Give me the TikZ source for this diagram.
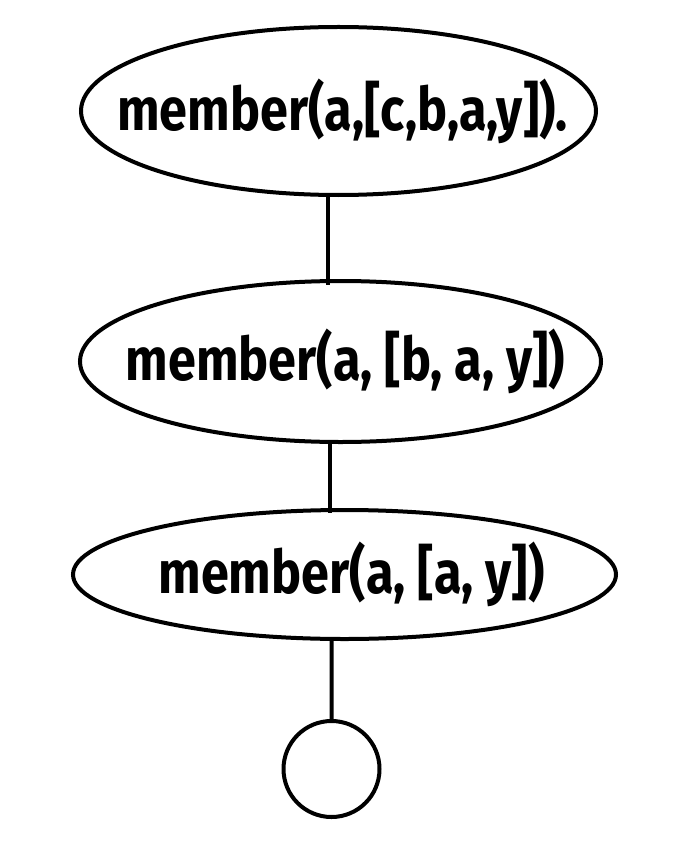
\documentclass[tikz,border=0pt]{standalone}
\usepackage{fontspec}
\newfontfamily\goalfont[FakeStretch=0.84]{Fira Sans}
\usetikzlibrary{shapes.geometric}
\begin{document}
\begin{tikzpicture}[x=1pt,y=-1pt, line width=4pt]
      \tikzset{goal/.style={draw, ellipse, inner sep=0pt},
               goal text/.style={font=\goalfont\bfseries\fontsize{60}{70}\selectfont, inner sep=0pt},
               empty goal/.style={draw, circle, inner sep=0pt, minimum size=96}}
      \useasboundingbox (0,0) rectangle (689,861);
      \node [goal, minimum width=515, minimum height=168,
             label={[goal text, xshift=4]center:member(a,[c,b,a,y]).}] (g1) at (338.5,111) {};
      \node [goal, minimum width=521, minimum height=161,
             label={[goal text, xshift=5]center:member(a, [b, a, y])}] (g2) at (340.5,361.5) {};
      \node [goal, minimum width=543, minimum height=129,
             label={[goal text, xshift=7]center:member(a, [a, y])}] (g3) at (344.5,574.5) {};
      \node [empty goal] (done) at (331.5,769) {};
      \draw [shorten >=-6pt] (g1.263) -- (g1.263 |- g2.north);
      \draw [shorten >=-5pt] (g2.263) -- (g2.263 |- g3.north);
      \draw (g3.259) -- (done.north);
\end{tikzpicture}
\end{document}
